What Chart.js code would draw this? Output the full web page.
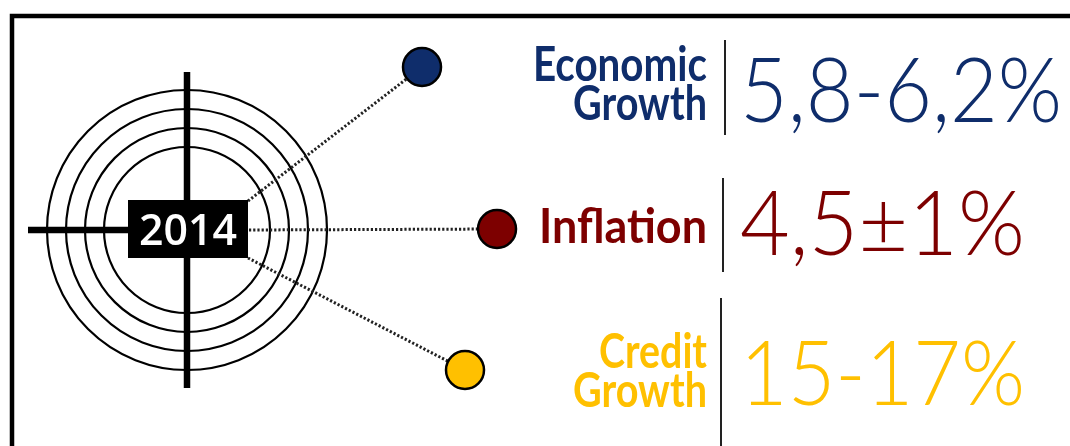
<!DOCTYPE html>
<html>
<head>
<meta charset="utf-8">
<script src="https://cdn.jsdelivr.net/npm/chart.js@4.4.1/dist/chart.umd.min.js"></script>
<style>
  html, body { margin: 0; padding: 0; background: #fff; overflow: hidden; }
  canvas { display: block; }
</style>
</head>
<body>
<canvas id="chart" width="1070" height="446"></canvas>
<script>
// data
const year = "2014";
const indicators = [["Economic", "Growth"], ["Inflation"], ["Credit", "Growth"]];
const targetLabels = ["5,8-6,2%", "4,5±1%", "15-17%"];
const colors = ["#0f2d6b", "#7d0000", "#ffc000"];

// layout, in scale units (scales run 0..1070 and 0..446, 1 unit = 1px)
const center = { x: 187, y: 230 };
const ringRadii = [140, 121, 102, 83];
const dotPos = [{ x: 422, y: 67 }, { x: 497, y: 229 }, { x: 465, y: 370 }];
const lineStart = [{ x: 248, y: 201 }, { x: 249, y: 230 }, { x: 248, y: 258 }];
const labelRight = 707;
const labelBaselines = [[81, 120], [243], [368, 407]];
const valueLeft = 740;
const valueBaselines = [122, 255, 405];
const valueWidths = [322, 285, 285];
const separators = [[725, 40, 135], [723, 178, 272], [721, 298, 446]];

const lineSet = (data, extra) => Object.assign({
  type: "scatter",
  data,
  showLine: true,
  borderColor: "#000",
  borderWidth: 2,
  pointRadius: 0,
  clip: false,
  order: 5
}, extra);

const datasets = [];

// frame
datasets.push(lineSet([{ x: 12, y: 446 }, { x: 12, y: 16 }, { x: 1070, y: 16 }], { borderWidth: 4.5, order: 9 }));

// rings
datasets.push({
  type: "scatter",
  data: ringRadii.map(() => ({ x: center.x, y: center.y })),
  pointRadius: ringRadii,
  pointBorderWidth: 2.2,
  pointBorderColor: "#000",
  pointBackgroundColor: "rgba(0,0,0,0)",
  clip: false,
  order: 8
});

// crosshair
datasets.push(lineSet([{ x: center.x, y: 72 }, { x: center.x, y: 388 }], { borderWidth: 6.5, order: 7 }));
datasets.push(lineSet([{ x: 28, y: center.y }, { x: 140, y: center.y }], { borderWidth: 6.5, order: 7 }));

// dotted leader lines
lineStart.forEach((p, i) => {
  datasets.push(lineSet([p, dotPos[i]], { borderWidth: 3, borderColor: "#222", borderDash: [2.2, 2], order: 4 }));
});

// separators
separators.forEach(s => {
  datasets.push(lineSet([{ x: s[0], y: s[1] }, { x: s[0], y: s[2] }], { borderWidth: 2, borderColor: "#222", order: 4 }));
});

// indicator dots
datasets.push({
  type: "scatter",
  data: dotPos,
  pointRadius: 19,
  pointBorderWidth: 2.5,
  pointBorderColor: "#000",
  pointBackgroundColor: colors,
  clip: false,
  order: 1
});

const textPlugin = {
  id: "infoText",
  afterDatasetsDraw(chart) {
    const { ctx, scales: { x, y } } = chart;
    ctx.save();
    // year box
    const bx = x.getPixelForValue(128), by = y.getPixelForValue(200);
    const bw = x.getPixelForValue(248) - bx, bh = y.getPixelForValue(258) - by;
    ctx.fillStyle = "#000";
    ctx.fillRect(bx, by, bw, bh);
    ctx.fillStyle = "#fff";
    ctx.font = "600 44px 'Open Sans', Lato, sans-serif";
    ctx.textAlign = "center";
    ctx.textBaseline = "alphabetic";
    ctx.fillText(year, bx + bw / 2, y.getPixelForValue(245), 98);

    // indicator names
    ctx.textAlign = "right";
    ctx.font = "bold 47px Lato, 'Open Sans', sans-serif";
    indicators.forEach((lines, i) => {
      ctx.fillStyle = colors[i];
      lines.forEach((t, j) => {
        const maxW = t === "Economic" ? 174 : t === "Inflation" ? 168 : t === "Credit" ? 108 : 134;
        ctx.fillText(t, x.getPixelForValue(labelRight), y.getPixelForValue(labelBaselines[i][j]), maxW);
      });
    });

    // target values
    ctx.textAlign = "left";
    ctx.font = "300 90px Lato, 'Open Sans', sans-serif";
    targetLabels.forEach((t, i) => {
      ctx.fillStyle = colors[i];
      ctx.fillText(t, x.getPixelForValue(valueLeft), y.getPixelForValue(valueBaselines[i]), valueWidths[i]);
    });
    ctx.restore();
  }
};

new Chart(document.getElementById("chart").getContext("2d"), {
  type: "scatter",
  data: { datasets },
  options: {
    responsive: false,
    animation: false,
    events: [],
    layout: { padding: 0, autoPadding: false },
    plugins: { legend: { display: false }, tooltip: { enabled: false } },
    scales: {
      x: { type: "linear", min: 0, max: 1070, display: false },
      y: { type: "linear", min: 0, max: 446, reverse: true, display: false }
    }
  },
  plugins: [textPlugin]
});
</script>
</body>
</html>
